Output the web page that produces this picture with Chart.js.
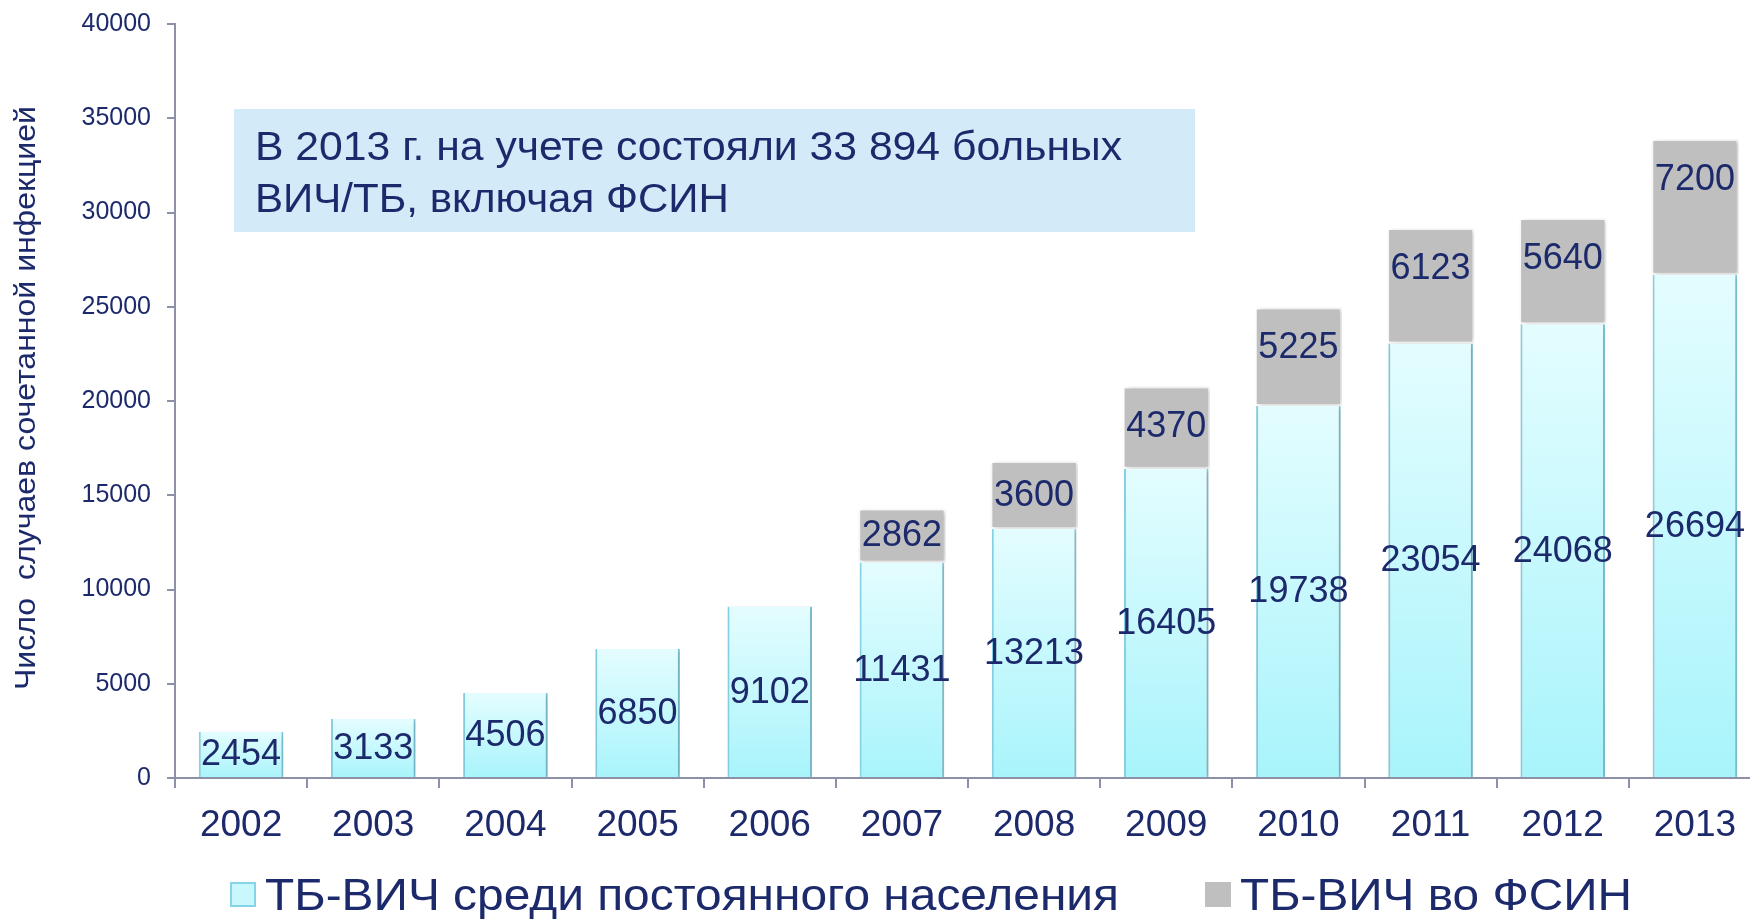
<!DOCTYPE html>
<html>
<head>
<meta charset="utf-8">
<script src="https://cdn.jsdelivr.net/npm/chart.js@4.4.1/dist/chart.umd.min.js"></script>
<style>
  html, body { margin: 0; padding: 0; background: #fff; overflow: hidden; }
  #wrap { width: 1762px; height: 919px; }
</style>
</head>
<body>
<div id="wrap"><canvas id="chart" width="1762" height="919"></canvas></div>
<script>
const years = ['2002','2003','2004','2005','2006','2007','2008','2009','2010','2011','2012','2013'];
const civilian = [2454, 3133, 4506, 6850, 9102, 11431, 13213, 16405, 19738, 23054, 24068, 26694];
const fsin = [null, null, null, null, null, 2862, 3600, 4370, 5225, 6123, 5640, 7200];
const yTicks = [0, 5000, 10000, 15000, 20000, 25000, 30000, 35000, 40000];

const seriesNames = ['ТБ-ВИЧ среди постоянного населения', 'ТБ-ВИЧ во ФСИН'];
const yTitle = 'Число  случаев сочетанной инфекцией';
const noteLines = ['В 2013 г. на учете состояли 33 894 больных', 'ВИЧ/ТБ, включая ФСИН'];

const NAVY = '#1c2a6c';
const AXIS = '#8d90a6';
const SANS = '"Liberation Sans", Arial, sans-serif';

function cyanGradient(ctx) {
  const chart = ctx.chart;
  if (!chart.chartArea || ctx.type !== 'data') return '#c4f8fd';
  const y = chart.scales.y;
  const top = y.getPixelForValue(civilian[ctx.dataIndex]);
  const bottom = y.getPixelForValue(0);
  const g = chart.ctx.createLinearGradient(0, top, 0, bottom);
  g.addColorStop(0, '#e4fdff');
  g.addColorStop(1, '#a8f4fb');
  return g;
}

// squeeze or stretch text horizontally to a given width
function fitText(c, text, x, y, width) {
  const w = c.measureText(text).width;
  c.save();
  c.translate(x, y);
  c.scale(width / w, 1);
  c.fillText(text, 0, 0);
  c.restore();
}

const shadows = {
  id: 'shadows',
  beforeDatasetDraw(chart) {
    const c = chart.ctx;
    c.save();
    c.shadowColor = 'rgba(0,0,0,0.22)';
    c.shadowBlur = 5;
    c.shadowOffsetX = 2;
    c.shadowOffsetY = 1;
  },
  afterDatasetDraw(chart) { chart.ctx.restore(); }
};

const valueLabels = {
  id: 'valueLabels',
  afterDatasetsDraw(chart) {
    const c = chart.ctx;
    c.save();
    c.font = '36px ' + SANS;
    c.fillStyle = NAVY;
    c.textAlign = 'center';
    c.textBaseline = 'middle';
    chart.data.datasets.forEach((ds, di) => {
      chart.getDatasetMeta(di).data.forEach((bar, i) => {
        const v = ds.data[i];
        if (v == null) return;
        const h = bar.base - bar.y;
        const y = di === 0 ? bar.y + Math.min(h / 2, Math.max(h - 22, 30)) : bar.y + Math.min(h / 2, 40);
        c.fillText(String(v), bar.x, y + 1);
      });
    });
    c.restore();
  }
};

const extras = {
  id: 'extras',
  afterDraw(chart) {
    const c = chart.ctx;
    c.save();
    // note box
    c.fillStyle = '#d3eaf8';
    c.fillRect(234, 109, 961, 123);
    c.fillStyle = NAVY;
    c.textBaseline = 'alphabetic';
    c.textAlign = 'left';
    c.font = '40px ' + SANS;
    fitText(c, noteLines[0], 255, 160, 867);
    fitText(c, noteLines[1], 255, 212, 474);

    // y axis title
    c.save();
    c.translate(27, 398);
    c.rotate(-Math.PI / 2);
    c.font = '30px ' + SANS;
    c.textAlign = 'center';
    c.textBaseline = 'middle';
    const w = c.measureText(yTitle).width;
    c.scale(584 / w, 1);
    c.fillText(yTitle, 0, 0);
    c.restore();

    // legend
    c.font = '45px ' + SANS;
    c.textBaseline = 'alphabetic';
    const items = [
      { box: 230, text: 265, width: 854, fill: '#c8f8fd', edge: '#86d4e8' },
      { box: 1205, text: 1240, width: 392, fill: '#bfbfbf', edge: '#bfbfbf' }
    ];
    items.forEach((it, i) => {
      c.fillStyle = it.fill;
      c.fillRect(it.box, 882, 26, 25);
      c.strokeStyle = it.edge;
      c.lineWidth = 2;
      c.strokeRect(it.box + 1, 883, 24, 23);
      c.fillStyle = NAVY;
      fitText(c, seriesNames[i], it.text, 910, it.width);
    });
    c.restore();
  }
};

new Chart(document.getElementById('chart'), {
  type: 'bar',
  data: {
    labels: years,
    datasets: [
      {
        label: seriesNames[0],
        data: civilian,
        backgroundColor: cyanGradient,
        borderColor: '#86d2e6',
        borderWidth: { left: 2, right: 2, top: 0, bottom: 0 },
        borderSkipped: false,
        barPercentage: 0.64,
        categoryPercentage: 1
      },
      {
        label: seriesNames[1],
        data: fsin,
        backgroundColor: '#bfbfbf',
        borderColor: '#ffffff',
        borderWidth: 2,
        borderSkipped: false,
        barPercentage: 0.66,
        categoryPercentage: 1
      }
    ]
  },
  options: {
    responsive: false,
    animation: false,
    layout: { padding: { top: 24, right: 1, left: 0, bottom: 0 } },
    plugins: {
      legend: { display: false },
      tooltip: { enabled: false }
    },
    scales: {
      x: {
        stacked: true,
        grid: { drawOnChartArea: false, tickLength: 10, color: AXIS, lineWidth: 2 },
        border: { color: AXIS, width: 2 },
        ticks: { color: NAVY, font: { family: SANS, size: 37 }, padding: 16 },
        afterFit: s => { s.height = 141; }
      },
      y: {
        stacked: true,
        min: 0,
        max: 40000,
        afterBuildTicks: s => { s.ticks = yTicks.map(v => ({ value: v })); },
        grid: { drawOnChartArea: false, tickLength: 8, color: AXIS, lineWidth: 2 },
        border: { color: AXIS, width: 2 },
        ticks: {
          color: NAVY,
          font: { family: SANS, size: 25 },
          padding: 16,
          callback: v => String(v)
        },
        afterFit: s => { s.width = 175; s.paddingTop = 0; s.paddingBottom = 0; }
      }
    }
  },
  plugins: [shadows, valueLabels, extras]
});
</script>
</body>
</html>
